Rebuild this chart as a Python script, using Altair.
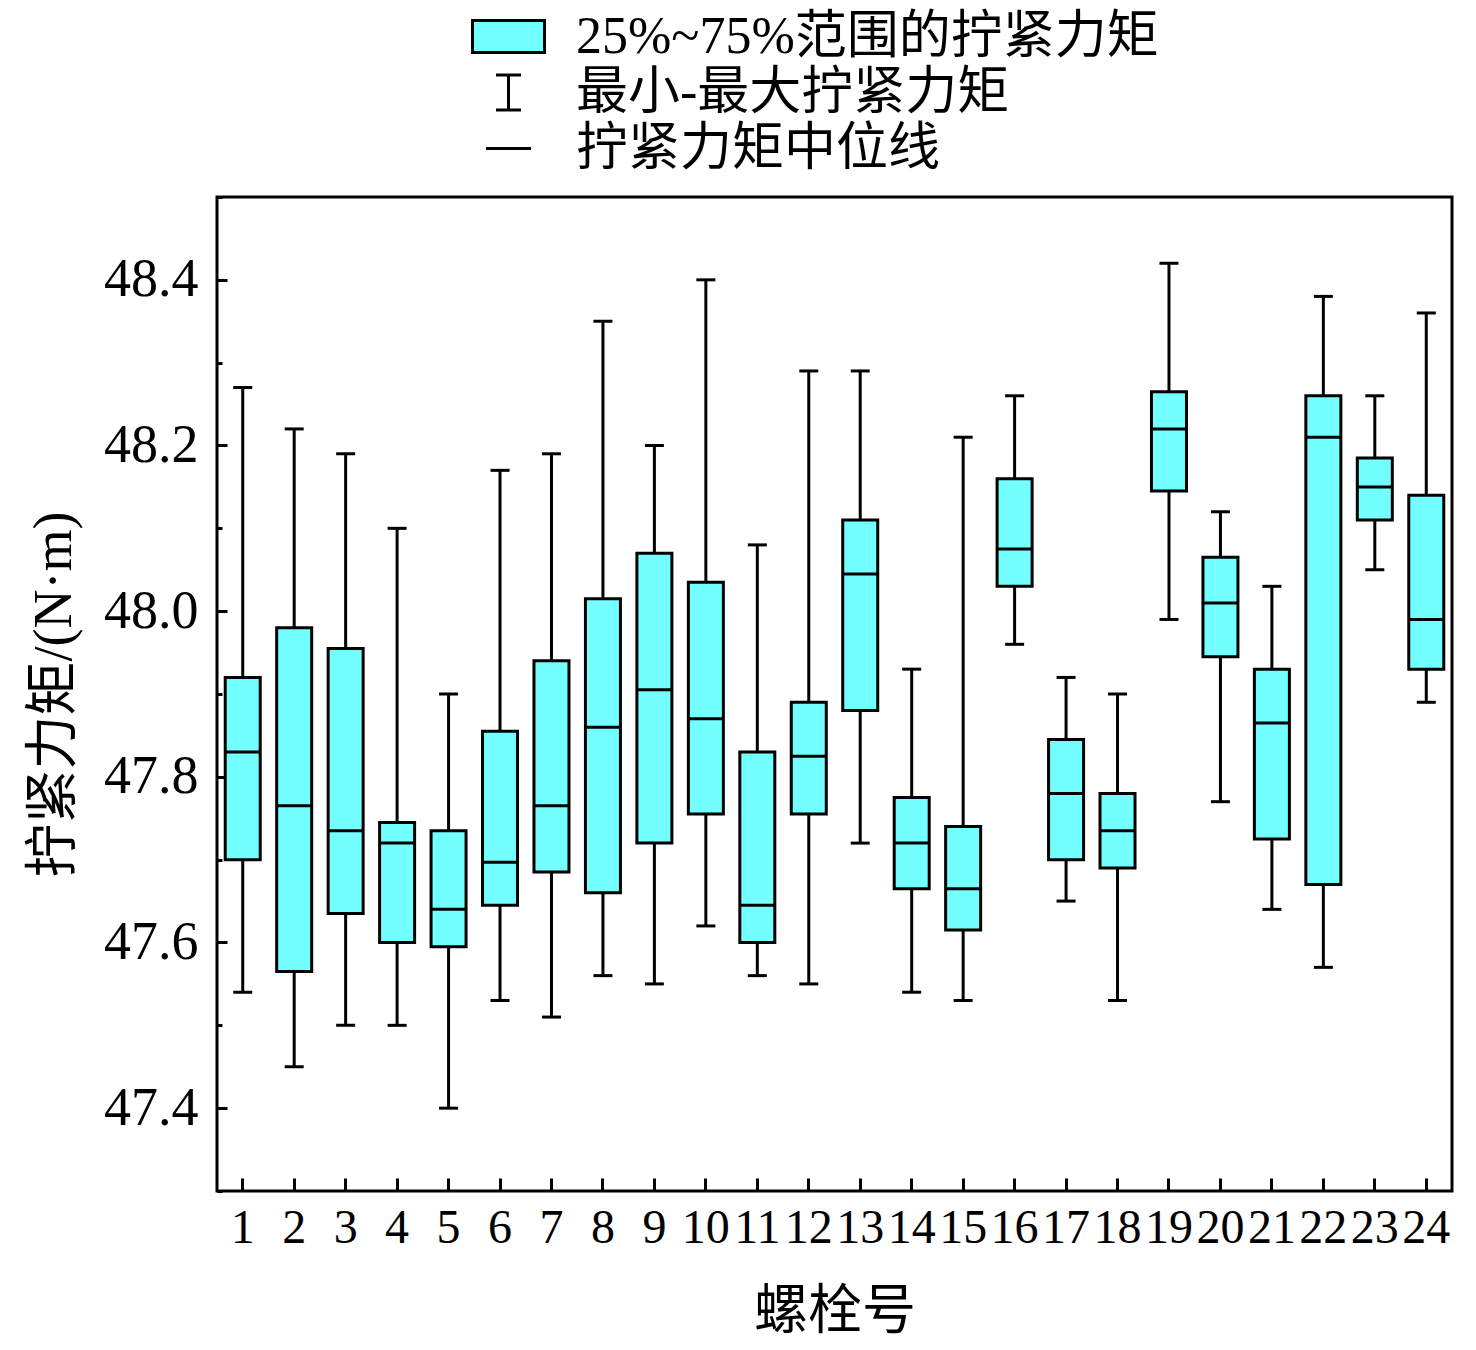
import altair as alt
import pandas as pd

# ---- data ----
bolts = [str(i) for i in range(1, 25)]
w_min = [47.54, 47.45, 47.50, 47.50, 47.40, 47.53, 47.51, 47.56, 47.55, 47.62, 47.56, 47.55,
         47.72, 47.54, 47.53, 47.96, 47.65, 47.53, 47.99, 47.77, 47.64, 47.57, 48.05, 47.89]
q1 = [47.70, 47.565, 47.635, 47.60, 47.595, 47.645, 47.685, 47.66, 47.72, 47.755, 47.60, 47.755,
      47.88, 47.665, 47.615, 48.03, 47.70, 47.69, 48.145, 47.945, 47.725, 47.67, 48.11, 47.93]
med = [47.83, 47.765, 47.735, 47.72, 47.64, 47.697, 47.765, 47.86, 47.905, 47.87, 47.645, 47.825,
       48.045, 47.72, 47.665, 48.075, 47.78, 47.735, 48.22, 48.01, 47.865, 48.21, 48.15, 47.99]
q3 = [47.92, 47.98, 47.955, 47.745, 47.735, 47.855, 47.94, 48.015, 48.07, 48.035, 47.83, 47.89,
      48.11, 47.775, 47.74, 48.16, 47.845, 47.78, 48.265, 48.065, 47.93, 48.26, 48.185, 48.14]
w_max = [48.27, 48.22, 48.19, 48.10, 47.90, 48.17, 48.19, 48.35, 48.20, 48.40, 48.08, 48.29,
         48.29, 47.93, 48.21, 48.26, 47.92, 47.90, 48.42, 48.12, 48.03, 48.38, 48.26, 48.36]

major_ticks = [47.4, 47.6, 47.8, 48.0, 48.2, 48.4]
minor_ticks = [47.3, 47.5, 47.7, 47.9, 48.1, 48.3, 48.5]
legend_labels = ["25%~75%范围的拧紧力矩", "最小-最大拧紧力矩", "拧紧力矩中位线"]

x_title = "螺栓号"
y_title = "拧紧力矩/(N·m)"

df = pd.DataFrame({"bolt": bolts, "lo": w_min, "q1": q1, "med": med, "q3": q3, "hi": w_max})
leg_df = pd.DataFrame({"item": legend_labels, "bolt": ["1"] * 3, "v": [48.0] * 3})

FONT = "'Liberation Serif', 'Noto Sans CJK SC', serif"
CYAN = "#73FFFF"
W, H = 1235, 994

xs = alt.Scale(domain=bolts, paddingInner=0, paddingOuter=0)
ys = alt.Scale(domain=[47.3, 48.5], nice=False, zero=False)

x_lab_axis = alt.Axis(orient="bottom", labelAngle=0, ticks=False, tickSize=0, domain=False,
                      grid=False, labelFontSize=48, labelPadding=13, title=x_title,
                      titleFontSize=54, titlePadding=33, titleFontWeight="normal")
x_tick_axis = alt.Axis(orient="top", offset=-H, labels=False, domain=False, ticks=True,
                       grid=False, tickSize=13, tickWidth=3, tickColor="black", title=None)
y_lab_axis = alt.Axis(orient="left", values=major_ticks, format=".1f", ticks=False, tickSize=0,
                      domain=False, grid=False, labelFontSize=54, labelPadding=19,
                      title=y_title, titleFontSize=54, titlePadding=22,
                      titleFontWeight="normal")
y_major_axis = alt.Axis(orient="right", offset=-W, values=major_ticks, labels=False,
                        domain=False, grid=False, tickSize=10, tickWidth=3,
                        tickColor="black", title=None)
y_minor_axis = alt.Axis(orient="right", offset=-W, values=minor_ticks, labels=False,
                        domain=False, grid=False, tickSize=5, tickWidth=3,
                        tickColor="black", title=None)

base = alt.Chart(df)

whisker = base.mark_rule(color="black", strokeWidth=3).encode(
    x=alt.X("bolt:N", scale=xs, sort=bolts, axis=x_lab_axis),
    y=alt.Y("lo:Q", scale=ys, axis=y_lab_axis),
    y2="hi:Q",
)
cap_lo = base.mark_tick(color="black", thickness=3, size=19, opacity=1).encode(
    x=alt.X("bolt:N", scale=xs, sort=bolts, axis=x_tick_axis),
    y=alt.Y("lo:Q", scale=ys, axis=y_major_axis),
)
cap_hi = base.mark_tick(color="black", thickness=3, size=19, opacity=1).encode(
    x=alt.X("bolt:N", scale=xs, sort=bolts, axis=None),
    y=alt.Y("hi:Q", scale=ys, axis=y_minor_axis),
)
box = base.mark_bar(fill=CYAN, stroke="black", strokeWidth=3, width=35, opacity=1).encode(
    x=alt.X("bolt:N", scale=xs, sort=bolts, axis=None),
    y=alt.Y("q1:Q", scale=ys, axis=None),
    y2="q3:Q",
)
median = base.mark_tick(color="black", thickness=3, size=36, opacity=1).encode(
    x=alt.X("bolt:N", scale=xs, sort=bolts, axis=None),
    y=alt.Y("med:Q", scale=ys, axis=None),
)

rect_path = "M-1.44,-0.64H1.44V0.64H-1.44Z"
i_path = "M-0.5,-0.7H0.5M0,-0.7V0.7M-0.5,0.7H0.5"
line_path = "M-0.9,0H0.9"

legend = alt.Legend(title=None, orient="none", legendX=265, legendY=-187, padding=0,
                    symbolSize=2500, symbolStrokeWidth=3, symbolStrokeColor="black",
                    symbolOpacity=1, labelFont=FONT, labelFontSize=52, labelOffset=41,
                    labelLimit=2000, rowPadding=3, labelColor="black")

leg_layer = alt.Chart(leg_df).mark_point(filled=True, opacity=0, strokeWidth=3).encode(
    x=alt.X("bolt:N", scale=xs, sort=bolts, axis=None),
    y=alt.Y("v:Q", scale=ys, axis=None),
    fill=alt.Fill("item:N", sort=None,
                  scale=alt.Scale(domain=legend_labels, range=[CYAN, "transparent", "transparent"]),
                  legend=legend),
    stroke=alt.Stroke("item:N", sort=None,
                      scale=alt.Scale(domain=legend_labels, range=["black", "black", "black"]),
                      legend=legend),
    shape=alt.Shape("item:N", sort=None,
                    scale=alt.Scale(domain=legend_labels, range=[rect_path, i_path, line_path]),
                    legend=legend),
)

chart = (
    alt.layer(whisker, cap_lo, cap_hi, box, median, leg_layer)
    .resolve_scale(x="shared", y="shared")
    .resolve_axis(x="independent", y="independent")
    .properties(width=W, height=H,
                autosize=alt.AutoSizeParams(type="none"),
                padding={"left": 209, "top": 189, "right": 16, "bottom": 150})
    .configure(background="white", font=FONT)
    .configure_view(stroke="black", strokeWidth=3)
    .configure_axis(labelFont=FONT, titleFont=FONT, labelColor="black", titleColor="black",
                    grid=False)
    .configure_legend(labelFont=FONT)
)

chart.save("out.html", embed_options={"renderer": "svg", "actions": False})
